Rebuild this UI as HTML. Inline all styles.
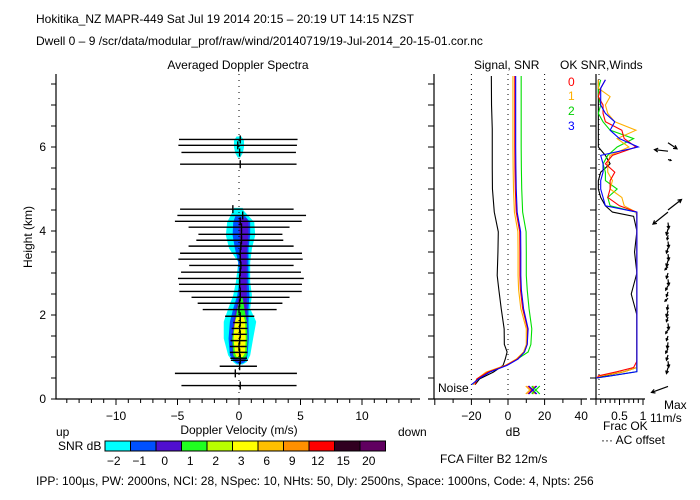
<!DOCTYPE html>
<html><head><meta charset="utf-8"><style>
html,body{margin:0;padding:0;background:#fff;}
svg{display:block;font-family:"Liberation Sans",sans-serif;}
text{fill:#000;font-size:12px;}
</style></head><body>
<svg id="chart" width="700" height="500" viewBox="0 0 700 500" xmlns="http://www.w3.org/2000/svg">
<text x="36" y="23" font-size="13">Hokitika_NZ  MAPR-449  Sat Jul 19 2014 20:15 – 20:19 UT 14:15 NZST</text>
<text x="36" y="45" font-size="12">Dwell  0 –  9   /scr/data/modular_prof/raw/wind/20140719/19-Jul-2014_20-15-01.cor.nc</text>
<text x="238" y="69" text-anchor="middle">Averaged Doppler Spectra</text>
<text x="474" y="69">Signal, SNR</text>
<text x="560" y="69">OK SNR,Winds</text>
<text transform="translate(32,237) rotate(-90)" text-anchor="middle" font-size="11">Height (km)</text>
<text x="239" y="434" text-anchor="middle" font-size="11">Doppler Velocity (m/s)</text>
<text x="56" y="436" font-size="11">up</text>
<text x="398" y="436" font-size="11">down</text>
<text x="58" y="450" font-size="11">SNR dB</text>
<text x="513" y="436" text-anchor="middle" font-size="11">dB</text>
<text x="603" y="430" font-size="11">Frac OK</text>
<text x="601" y="444" font-size="11">··· AC offset</text>
<text x="664" y="409" font-size="11">Max</text>
<text x="650" y="422" font-size="11">11m/s</text>
<text x="440" y="463" font-size="11">FCA Filter B2 12m/s</text>
<text x="36" y="485" font-size="11">IPP: 100µs,  PW: 2000ns,  NCI:  28,  NSpec: 10, NHts: 50,  Dly: 2500ns,  Space: 1000ns,  Code: 4,  Npts: 256</text>
<text x="438" y="392" font-size="11">Noise</text>
<text x="568" y="86" fill="#ff0000" style="fill:#ff0000">0</text>
<text x="568" y="100" style="fill:#ffb000">1</text>
<text x="568" y="115" style="fill:#00d000">2</text>
<text x="568" y="130" style="fill:#0000ff">3</text>
<g id="g"></g>
</svg>
<script>
// ---- data ----
const specHts=[6.18,6.04,5.87,5.59,4.52,4.37,4.23,4.09,3.92,3.78,3.64,3.47,3.33,3.18,3.02,2.87,2.73,2.56,2.42,2.28,2.13,1.97,1.82,1.68,1.54,1.39,1.25,1.11,0.97,0.92,0.78,0.61,0.32];
const specLo=[-4.88,-4.93,-4.68,-4.79,-4.79,-5.01,-5.21,-4.1,-3.3,-3.47,-4.1,-4.79,-4.93,-4.05,-4.71,-4.96,-4.88,-4.85,-3.86,-3.36,-2.95,-1.13,-0.47,-0.6,-0.6,-0.69,-0.74,-0.74,-0.7,-0.66,-1.57,-5.21,-4.68];
const specHi=[4.76,4.71,4.63,4.68,4.44,5.45,5.1,4.11,3.53,3.6,4.44,5.12,5.18,4.44,5.04,5.27,5.12,5.1,4.11,3.53,3.06,1.24,0.63,0.69,0.63,0.63,0.63,0.69,0.65,0.72,1.46,4.71,4.68];
const specMean=[0.1,-0.1,0.05,0.1,-0.5,0.3,0.1,0.2,0.2,0.2,0.15,0.1,0.1,0.15,0.1,0.05,0.05,0.1,0.1,0.05,0.0,0.1,0.1,0.05,0.1,0.05,0.0,0.05,0.1,0.1,0.05,-0.3,0.1];
const cyanH=[4.55,4.49,4.21,3.9,3.58,3.26,2.79,2.47,2.15,1.84,1.44,1.04,0.88,0.82];
const cyanL=[-0.4,-0.47,-0.96,-1.07,-0.8,-0.06,-0.25,-0.47,-0.88,-1.24,-1.24,-0.88,-0.47,-0.2];
const cyanR=[0.3,0.36,1.24,1.32,1.05,0.91,0.91,1.05,0.91,1.4,1.15,0.91,0.63,0.3];
const blueH=[4.35,4.21,3.9,3.58,3.26,2.79,2.47,2.15,1.84,1.44,1.04,0.88,0.84];
const blueL=[-0.3,-0.47,-0.52,-0.33,-0.06,0.03,-0.14,-0.47,-0.74,-0.85,-0.74,-0.33,-0.1];
const blueR=[0.5,0.91,0.91,0.77,0.77,0.77,0.85,0.77,0.77,0.8,0.69,0.5,0.2];
const purpH=[4.3,4.2,3.9,3.5,3.0,2.5,2.15,1.84,1.44,1.04,0.9];
const purpL=[0,-0.06,0.03,0.08,0.14,0.03,-0.25,-0.47,-0.61,-0.52,-0.19];
const purpR=[0.6,0.77,0.77,0.63,0.63,0.63,0.63,0.63,0.69,0.63,0.36];
const greenH=[2.4,2.15,1.84,1.44,1.04,0.95];
const greenL=[0.1,-0.14,-0.33,-0.55,-0.47,-0.2];
const greenR=[0.3,0.44,0.63,0.69,0.63,0.4];
const yellowH=[1.95,1.84,1.44,1.1,1.0];
const yellowL=[-0.2,-0.33,-0.45,-0.33,-0.2];
const yellowR=[0.4,0.5,0.55,0.5,0.3];
const topCyanH=[6.25,6.15,6.0,5.85,5.75];
const topCyanL=[-0.2,-0.41,-0.41,-0.3,-0.1];
const topCyanR=[0.2,0.41,0.41,0.3,0.1];
const cbLabels=["-2","-1","0","1","2","3","6","9","12","15","20"];
const cbColors=["#00ffff","#0050ff","#5010d0","#20ff20","#b8ff00","#ffff00","#ffc000","#ff9000","#ff0000","#300020","#600060"];
const sigHts=[0.34,0.48,0.64,0.8,0.95,1.12,1.3,1.67,2.15,2.6,2.94,3.5,3.98,4.45,5,5.5,6,6.43,7,7.69];
const sigBlack=[-18,-15.5,-8,-2.7,-1.5,-0.5,-2,-2.1,-3.7,-5,-5.9,-5.5,-5.3,-7.5,-8.5,-8.6,-8.6,-8.6,-9,-9.1];
const sigRed=[-18,-17,-11,-1,5,9,10.5,10.7,8,6.8,6.5,6.5,6.4,4.5,4,3.8,3.7,3.7,3.7,3.7];
const sigYellow=[-19,-17,-12,-1.5,4.5,8.5,10,10,7,5.8,5.5,5.5,5.4,3.5,3,2.8,2.7,2.7,2.7,2.7];
const sigBlue=[-20,-16,-10,-0.5,5.5,9,10.5,11,8.5,7.3,7,7,6.9,5,4.5,4.3,4.2,4.2,4.2,4.2];
const sigGreen=[-19,-16.5,-11,-1,5,11,12.5,13,11.5,10.5,10,10,9.9,8,7.5,7.3,7.2,7.2,7.2,7.2];
const fracHts=[0.5,0.55,0.65,0.75,0.9,1.5,2.0,2.5,3.0,3.5,4.0,4.35,4.45,4.6,4.8,5.0,5.2,5.4,5.6,5.8,6.0,6.2,6.4,6.6,6.8,7.0,7.2,7.4,7.6];
const fracRed=[0.03,0.05,0.45,0.8,0.87,0.87,0.87,0.87,0.87,0.87,0.87,0.87,0.87,0.5,0.25,0.3,0.3,0.4,0.2,0.35,0.85,0.6,0.55,0.2,0.15,0.15,0.05,0.1,0.2];
const fracYellow=[0.02,0.1,0.6,0.87,0.87,0.87,0.87,0.87,0.87,0.87,0.87,0.87,0.85,0.6,0.55,0.3,0.35,0.25,0.25,0.3,0.7,0.45,0.85,0.4,0.25,0.2,0.3,0.05,0.05];
const fracGreen=[0,0.3,0.87,0.87,0.87,0.87,0.87,0.87,0.87,0.87,0.87,0.87,0.85,0.3,0.25,0.45,0.2,0.2,0.15,0.25,0.45,0.8,0.3,0.15,0.05,0.1,0.05,0.05,0.1];
const fracBlue=[0,0.3,0.87,0.87,0.87,0.87,0.87,0.87,0.87,0.87,0.87,0.87,0.87,0.2,0.15,0.1,0.1,0.15,0.15,0.1,0.9,0.5,0.3,0.4,0.2,0.1,0.1,0.1,0.2];
const fracBlack=[0.05,0.15,0.6,0.87,0.87,0.87,0.87,0.75,0.87,0.82,0.87,0.8,0.35,0.2,0.1,0.05,0.05,0.1,0.3,0.2,0.05,0.05,0.05,0.05,0.05,0.05,0.05,0.05,0.05];
const windHts=[0.3,0.75,0.9,1.05,1.2,1.35,1.5,1.65,1.8,1.95,2.1,2.25,2.4,2.55,2.7,2.85,3.0,3.15,3.3,3.45,3.6,3.75,3.9,4.05,4.2,4.45,4.5,5.7,5.9,6.1];
const windU=[-11,-1,0.5,-1,-1.5,-0.5,-1,-1.5,0.5,-1,-1,-0.5,-2,-1,-1.5,0.5,-1,-2,-1,0.5,-1,0.5,-0.5,-1,0.5,-10,9,2,-9,6];
const windV=[-4,-4,-4,-3.5,-3,-4,-3,-2.5,-4,-3,-4,-3.5,-2,-3,-3,-4,-3.5,-2,-4,-4,-3.5,-4,-3,-4,-4,-8,7,-0.5,1,-4];

// ---- scales ----
const NS="http://www.w3.org/2000/svg";
const g=document.getElementById('g');
const Y=km=>399-km*42;
const VX=v=>239+v*12.3;
const DX=d=>508+d*1.83;
const FX=f=>596+f*47;
function el(tag,attrs,parent){const e=document.createElementNS(NS,tag);for(const k in attrs)e.setAttribute(k,attrs[k]);(parent||g).appendChild(e);return e;}

// blobs
function blob(H,L,R,color,name){
  const pts=[];
  for(let i=0;i<H.length;i++)pts.push(VX(L[i])+','+Y(H[i]));
  for(let i=H.length-1;i>=0;i--)pts.push(VX(R[i])+','+Y(H[i]));
  const p=el('polygon',{points:pts.join(' '),fill:color,stroke:'none'});
  
  
}
blob(cyanH,cyanL,cyanR,'#00ffff','snr-contour-cyan');
blob(topCyanH,topCyanL,topCyanR,'#00ffff','snr-contour-cyan-upper');
blob(blueH,blueL,blueR,'#0050ff','snr-contour-blue');
blob(purpH,purpL,purpR,'#5010d0','snr-contour-purple');
blob(greenH,greenL,greenR,'#20ff20','snr-contour-green');
blob(yellowH,yellowL,yellowR,'#ffff00','snr-contour-yellow');

// zero dotted line
el('line',{x1:VX(0),y1:74,x2:VX(0),y2:399,stroke:'#000','stroke-dasharray':'1,5'});
// spectral width lines
for(let i=0;i<specHts.length;i++){
  const y=Y(specHts[i]);
  const l=el('line',{x1:VX(specLo[i]),y1:y,x2:VX(specHi[i]),y2:y,stroke:'#000','stroke-width':1.4});
  
  
  const m=el('line',{x1:VX(specMean[i]),y1:y-4,x2:VX(specMean[i]),y2:y+4,stroke:'#000','stroke-width':1.4});
  
  
}
// spectra axes
const ax=el('path',{d:'M56,74 V399 H420',fill:'none',stroke:'#000','stroke-width':1.2});


for(let k=0;k<=15;k++){
  const y=399-k*21;
  el('line',{x1:51,y1:y,x2:56,y2:y,stroke:'#000'});
  el('line',{x1:428,y1:y,x2:434,y2:y,stroke:'#000'});
  el('line',{x1:590,y1:y,x2:596,y2:y,stroke:'#000'});
  if(k%4===0){const t=el('text',{x:46,y:y+4,'text-anchor':'end','font-size':11});t.textContent=k/2;}
}
for(let v=-14;v<=14;v++){
  el('line',{x1:VX(v),y1:399,x2:VX(v),y2:v%5===0?405:403,stroke:'#000'});
  if(v%5===0){const t=el('text',{x:VX(v),y:420,'text-anchor':'middle','font-size':11});t.textContent=v<0?'−'+(-v):v;}
}
// signal panel
el('path',{d:'M434,74 V399 M428,399 H587',fill:'none',stroke:'#000','stroke-width':1.2});
[-20,0,20].forEach(d=>el('line',{x1:DX(d),y1:74,x2:DX(d),y2:399,stroke:'#000','stroke-dasharray':'1,4'}));
for(let d=-40;d<=40;d+=10){
  el('line',{x1:DX(d),y1:399,x2:DX(d),y2:d%20===0?405:403,stroke:'#000'});
  if(d%20===0&&d>-40){const t=el('text',{x:DX(d),y:420,'text-anchor':'middle','font-size':11});t.textContent=d<0?'−'+(-d):d;}
}
function prof(vals,color,name,xf,hts){
  const p=el('polyline',{points:vals.map((v,i)=>xf(v)+','+Y(hts[i])).join(' '),fill:'none',stroke:color,'stroke-width':1.1});
  
  
}
prof(sigBlack,'#000','signal-line',DX,sigHts);
prof(sigGreen,'#00e000','snr-beam-2',DX,sigHts);
prof(sigYellow,'#ffb000','snr-beam-1',DX,sigHts);
prof(sigRed,'#ff0000','snr-beam-0',DX,sigHts);
prof(sigBlue,'#0000ff','snr-beam-3',DX,sigHts);
// noise markers
[['#ffb000',-2],['#ff0000',0],['#0000ff',1],['#00e000',4]].forEach(([c,o])=>{
  const cx=DX(13)+o, cy=390;
  el('path',{d:`M${cx-4},${cy-4} L${cx+4},${cy+4} M${cx+4},${cy-4} L${cx-4},${cy+4}`,stroke:c,'stroke-width':1.2});
});
// winds panel
el('path',{d:'M596,74 V399 M590,399 H645',fill:'none',stroke:'#000','stroke-width':1.2});
el('line',{x1:599,y1:74,x2:599,y2:399,stroke:'#000','stroke-dasharray':'1,4'});
for(let f=0;f<=10;f++){el('line',{x1:FX(f/10),y1:399,x2:FX(f/10),y2:f%5===0?405:403,stroke:'#000'});}
[['0.5',0.5],['1',1]].forEach(([s,f])=>{const t=el('text',{x:FX(f),y:420,'text-anchor':'middle','font-size':11});t.textContent=s;});
prof(fracBlack,'#000','frac-ok-all',FX,fracHts);
prof(fracGreen,'#00e000','frac-ok-beam-2',FX,fracHts);
prof(fracYellow,'#ffb000','frac-ok-beam-1',FX,fracHts);
prof(fracRed,'#ff0000','frac-ok-beam-0',FX,fracHts);
prof(fracBlue,'#0000ff','frac-ok-beam-3',FX,fracHts);
// wind arrows
for(let i=0;i<windHts.length;i++){
  const x0=668,y0=Y(windHts[i]),s=1.5;
  const x1=x0+windU[i]*s,y1=y0-windV[i]*s;
  const a=Math.atan2(y1-y0,x1-x0),h=Math.min(4,Math.hypot(x1-x0,y1-y0)*0.5);
  const d=`M${x0},${y0} L${x1},${y1} M${x1-h*Math.cos(a-0.5)},${y1-h*Math.sin(a-0.5)} L${x1},${y1} L${x1-h*Math.cos(a+0.5)},${y1-h*Math.sin(a+0.5)}`;
  const p=el('path',{d:d,fill:'none',stroke:'#000','stroke-width':1.2});
  
  
}
// colorbar
const cbx=105,cbw=25.5;
for(let i=0;i<cbColors.length;i++){
  const r=el('rect',{x:cbx+i*cbw,y:441,width:cbw,height:10,fill:cbColors[i],stroke:'#000','stroke-width':1});
  
  
  const t=el('text',{x:cbx+i*cbw+cbw/2-4,y:465,'text-anchor':'middle','font-size':11});
  t.textContent=cbLabels[i].replace('-','−');
  
  
}
</script>
</body></html>
